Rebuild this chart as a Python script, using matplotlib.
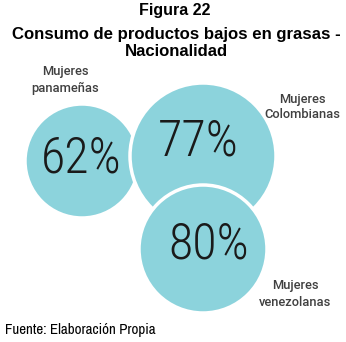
import matplotlib
matplotlib.use("Agg")
import matplotlib.pyplot as plt
from matplotlib.patches import Circle
from matplotlib import font_manager

# Data
groups = ["Mujeres\npanameñas", "Mujeres\nColombianas", "Mujeres\nvenezolanas"]
values = [62, 77, 80]
title_top = "Figura 22"
title_main = "Consumo de productos bajos en grasas -"
title_sub = "Nacionalidad"
source = "Fuente: Elaboración Propia"

# Layout (pixel coordinates, y downward)
centers = [(82, 161), (203, 156), (203, 249)]
radii = [57, 73, 64]
value_pos = [(81, 159), (198, 142), (209, 245)]
label_pos = [(65, 80), (302, 107), (295, 294)]

names = {f.name for f in font_manager.fontManager.ttflist}
def pick(cands):
    for c in cands:
        if c in names:
            return c
    return "DejaVu Sans"

cond = pick(["Roboto Condensed", "Barlow Semi Condensed", "Asap Condensed", "Encode Sans Condensed"])
narrow = pick(["Liberation Sans Narrow", "Arial Narrow", "Archivo Narrow", "Liberation Sans"])
lab = pick(["Roboto", "Noto Sans", "DejaVu Sans"])

W, H = 346, 342
fig = plt.figure(figsize=(W / 100, H / 100), dpi=100)
ax = fig.add_axes([0, 0, 1, 1])
ax.set_xlim(0, W)
ax.set_ylim(H, 0)
ax.axis("off")

color = "#8cd3dc"
for i, (c, r) in enumerate(zip(centers, radii)):
    ax.add_patch(Circle(c, r, facecolor=color, edgecolor="white", linewidth=2.5, zorder=2 + i))

for (x, y), v in zip(value_pos, values):
    ax.text(x, y, f"{v}%", ha="center", va="center", fontsize=36, family=cond,
            fontweight="light", color="#1a1a1a", zorder=10)

for (x, y), g in zip(label_pos, groups):
    ax.text(x, y, g, ha="center", va="center", fontsize=9.3, family=lab,
            fontweight="medium", color="#404040", linespacing=1.3, zorder=10)

ax.text(175, 11, title_top, ha="center", va="center", fontsize=11.5,
        family="Liberation Sans", fontweight="bold", color="black")
ax.text(176, 34, title_main, ha="center", va="center", fontsize=12.1,
        family="Liberation Sans", fontweight="bold", color="black")
ax.text(176, 51, title_sub, ha="center", va="center", fontsize=12.1,
        family="Liberation Sans", fontweight="bold", color="black")
ax.text(5, 330, source, ha="left", va="center", fontsize=10.8,
        family=narrow, color="black")

fig.savefig("out.png", dpi=100)
